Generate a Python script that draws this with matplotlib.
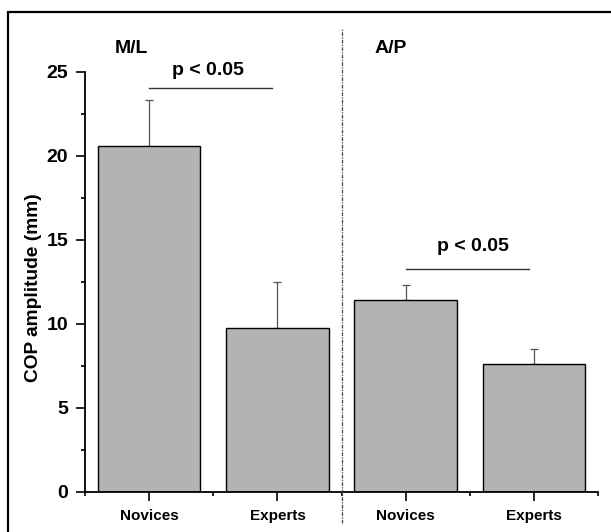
import matplotlib.pyplot as plt
import numpy as np
from matplotlib.patches import Rectangle

# data
groups = ['Novices', 'Experts', 'Novices', 'Experts']
means = [20.6, 9.76, 11.45, 7.62]
errs = [2.75, 2.76, 0.87, 0.91]
panels = ['M/L', 'A/P']
sig_text = ['p < 0.05', 'p < 0.05']
sig_y = [24.03, 13.29]

plt.rcParams['font.family'] = ['Liberation Sans', 'DejaVu Sans']
plt.rcParams['font.weight'] = 'bold'

fig = plt.figure(figsize=(6.11, 5.32), dpi=100)
# outer frame
fig.patches.append(Rectangle((8/611, -0.1), 1.2, (532-11.7)/532 + 0.1,
                             transform=fig.transFigure, fill=False,
                             edgecolor='black', linewidth=1.6))

ax = fig.add_axes([85/611, 40/532, (598.3-85)/611, 420/532])
x = np.arange(1, 5)
ax.bar(x, means, width=0.8, color='#b3b3b3', edgecolor='black', linewidth=1.0, zorder=2)
ax.errorbar(x, means, yerr=[np.zeros(4), errs], fmt='none', ecolor='#555555',
            elinewidth=0.9, capsize=3, capthick=0.9, zorder=1)

ax.set_xlim(0.5, 4.5)
ax.set_ylim(0, 25)
ax.spines['top'].set_visible(False)
ax.spines['right'].set_visible(False)
ax.spines['left'].set_linewidth(1.3)
ax.spines['bottom'].set_linewidth(1.3)

ax.set_xticks(x)
ax.set_xticklabels(groups, fontsize=11, fontweight='bold')
ax.set_xticks([0.5, 1.5, 2.5, 3.5, 4.5], minor=True)
ax.set_yticks([0, 5, 10, 15, 20, 25])
ax.set_yticklabels(['0', '5', '10', '15', '20', '25'], fontsize=14, fontweight='bold')
ax.set_yticks(np.arange(2.5, 25, 5), minor=True)
ax.tick_params(axis='both', which='major', direction='out', length=6.5, width=1.2)
ax.tick_params(axis='both', which='minor', direction='out', length=3, width=1.2)
ax.tick_params(axis='y', which='major', pad=5.5)
ax.tick_params(axis='x', which='major', pad=14)
for lab in ax.get_xticklabels():
    lab.set_verticalalignment('baseline')
ax.set_ylabel('COP amplitude (mm)', fontsize=13.8, fontweight='bold')
ax.yaxis.set_label_coords(-0.083, 0.486)

# divider between panels
ax.plot([2.5, 2.5], [-1.83, 27.6], color='#444444', linewidth=0.9,
        linestyle=(0, (3, 1, 1, 1)), clip_on=False, zorder=3)

# panel labels
ax.text(0.86, 26.4, panels[0], ha='center', va='center', fontsize=14, fontweight='bold')
ax.text(2.885, 26.4, panels[1], ha='center', va='center', fontsize=14, fontweight='bold')

# significance
ax.plot([1.0, 1.96], [sig_y[0], sig_y[0]], color='#333333', linewidth=1.0, clip_on=False)
ax.text(1.46, 25.06, sig_text[0], ha='center', va='center', fontsize=14, fontweight='bold')
ax.plot([3.0, 3.96], [sig_y[1], sig_y[1]], color='#333333', linewidth=1.0, clip_on=False)
ax.text(3.52, 14.6, sig_text[1], ha='center', va='center', fontsize=14, fontweight='bold')

fig.savefig('out.png', dpi=100)
